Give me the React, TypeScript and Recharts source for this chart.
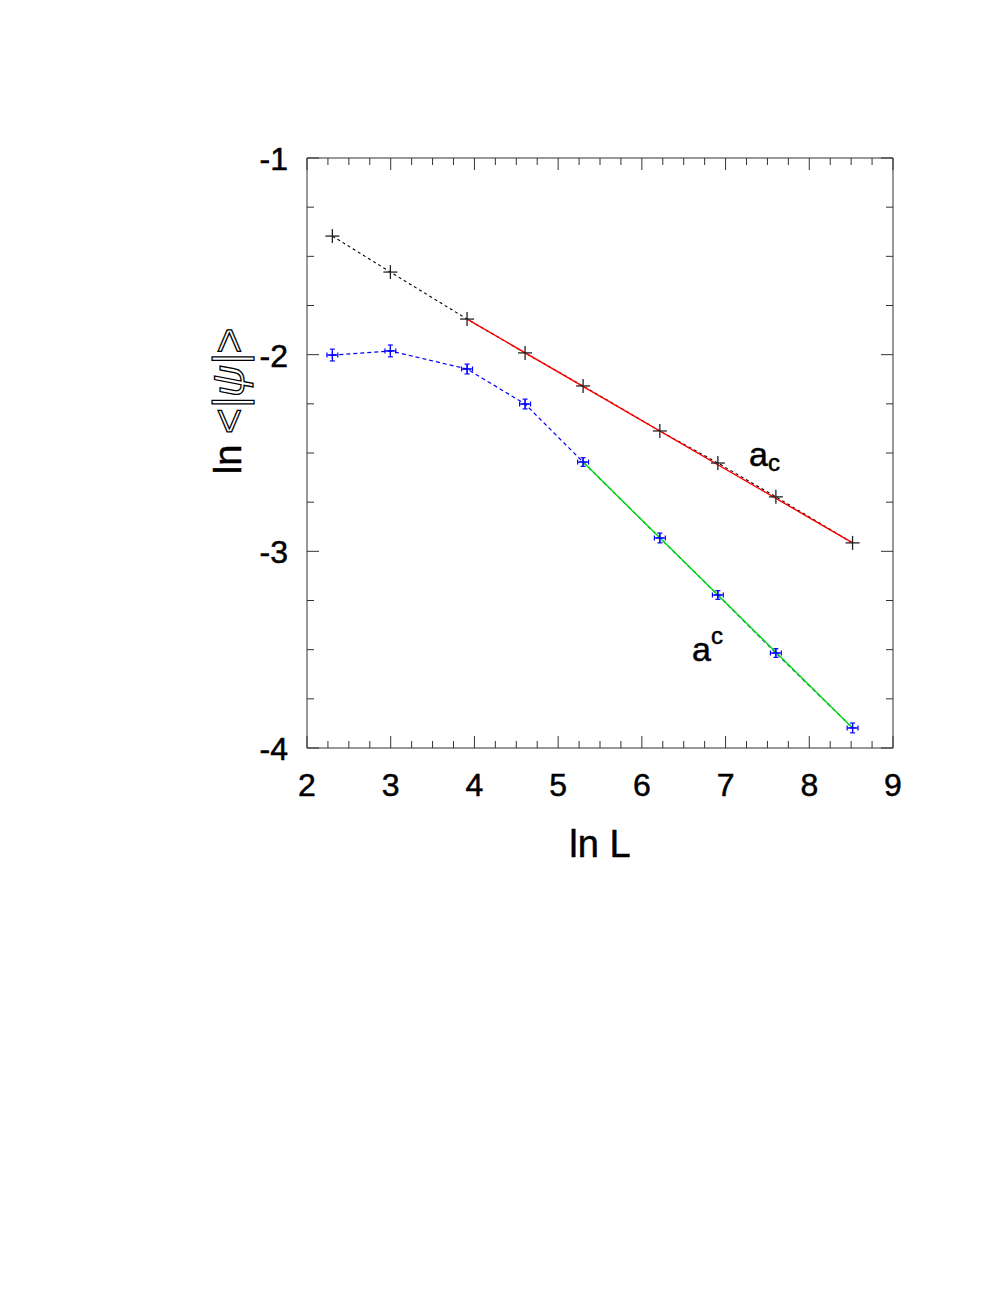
import React from 'react';
import { ComposedChart, Line, Scatter, XAxis, YAxis, ErrorBar } from 'recharts';

// ln L values (L = 10, 20, 50, 100, 200, 500, 1000, 2000, 5000)
const lnL = [2.303, 2.996, 3.912, 4.605, 5.298, 6.215, 6.908, 7.601, 8.517];
// a_c series (black +)
const acValues = [-1.397, -1.58, -1.819, -1.991, -2.159, -2.388, -2.551, -2.723, -2.957];
// a^c series (blue, with error bars)
const aSupValues = [-2.002, -1.981, -2.073, -2.251, -2.546, -2.932, -3.222, -3.517, -3.898];
const aSupYErr = [0.03, 0.03, 0.025, 0.025, 0.022, 0.025, 0.022, 0.022, 0.025];
const aSupXErr = [0.065, 0.065, 0.065, 0.065, 0.065, 0.065, 0.065, 0.065, 0.065];
// fitted lines
const redFitX = [3.912, 8.517];
const redFitY = [-1.819, -2.957];
const greenFitX = [5.298, 8.517];
const greenFitY = [-2.546, -3.898];
// axis ticks (major every 1, minor every 0.25)
const xTicks: number[] = [];
for (let i = 0; i <= 28; i++) xTicks.push(2 + i * 0.25);
const yTicks: number[] = [];
for (let i = 0; i <= 12; i++) yTicks.push(-4 + i * 0.25);
// annotations
const annotations = [
  { x: 7.28, y: -2.566, base: 'a', script: 'c', kind: 'sub' },
  { x: 6.6, y: -3.56, base: 'a', script: 'c', kind: 'sup' },
];

const acData = lnL.map((x, i) => ({ x, y: acValues[i] }));
const aSupData = lnL.map((x, i) => ({ x, y: aSupValues[i], yErr: aSupYErr[i], xErr: aSupXErr[i] }));
const redData = redFitX.map((x, i) => ({ x, y: redFitY[i] }));
const greenData = greenFitX.map((x, i) => ({ x, y: greenFitY[i] }));

const FONT = '"Liberation Sans", Arial, Helvetica, sans-serif';
const AXIS = '#333';

const isMajor = (v: number) => Math.abs(v - Math.round(v)) < 1e-6;

const BottomTick = (props: any) => {
  const { x, y, payload } = props;
  const v = payload.value;
  const m = isMajor(v);
  return (
    <g>
      <line x1={x} x2={x} y1={y} y2={y - (m ? 12 : 7)} stroke={AXIS} strokeWidth={1} />
      {m && (
        <text x={x} y={y + 48} textAnchor="middle" fontSize={32} fontFamily={FONT} fill="#000" stroke="#000" strokeWidth={0.5}>
          {v}
        </text>
      )}
    </g>
  );
};
const TopTick = (props: any) => {
  const { x, y, payload } = props;
  const m = isMajor(payload.value);
  return <line x1={x} x2={x} y1={y} y2={y + (m ? 12 : 7)} stroke={AXIS} strokeWidth={1} />;
};
const LeftTick = (props: any) => {
  const { x, y, payload } = props;
  const v = payload.value;
  const m = isMajor(v);
  return (
    <g>
      <line x1={x} x2={x + (m ? 12 : 7)} y1={y} y2={y} stroke={AXIS} strokeWidth={1} />
      {m && (
        <text x={x - 19} y={y + 12} textAnchor="end" fontSize={32} fontFamily={FONT} fill="#000" stroke="#000" strokeWidth={0.5}>
          {v}
        </text>
      )}
    </g>
  );
};
const RightTick = (props: any) => {
  const { x, y, payload } = props;
  const m = isMajor(payload.value);
  return <line x1={x} x2={x - (m ? 12 : 7)} y1={y} y2={y} stroke={AXIS} strokeWidth={1} />;
};

const PlusShape = (props: any) => {
  const { cx, cy } = props;
  return (
    <g>
      <line x1={cx - 7} x2={cx + 7} y1={cy} y2={cy} stroke="#222" strokeWidth={1.3} />
      <line x1={cx} x2={cx} y1={cy - 7} y2={cy + 7} stroke="#222" strokeWidth={1.3} />
    </g>
  );
};
const BluePlus = (props: any) => {
  const { cx, cy } = props;
  return (
    <g>
      <line x1={cx - 4} x2={cx + 4} y1={cy} y2={cy} stroke="#0000ff" strokeWidth={1.2} />
      <line x1={cx} x2={cx} y1={cy - 4} y2={cy + 4} stroke="#0000ff" strokeWidth={1.2} />
    </g>
  );
};
const EmptyShape = () => <g />;
const AnnotationShape = (props: any) => {
  const { cx, cy, payload } = props;
  return (
    <text x={cx} y={cy} fontSize={34} fontFamily={FONT} fill="#000" stroke="#000" strokeWidth={0.5}>
      {payload.base}
      <tspan fontSize={24} dy={payload.kind === 'sub' ? 5 : -17}>
        {payload.script}
      </tspan>
    </text>
  );
};

const YLabel = (props: any) => {
  const vb = props.viewBox || { x: 0, y: 150, width: 299, height: 590 };
  const cx = vb.x + vb.width - 79;
  const cy = vb.y + vb.height / 2 - 52;
  return (
    <text
      x={cx}
      y={cy}
      transform={`rotate(-90, ${cx}, ${cy})`}
      textAnchor="middle"
      dominantBaseline="central"
      fontSize={38}
      fontFamily={FONT}
    >
      <tspan fill="#000" stroke="#000" strokeWidth={0.5}>ln </tspan>
      <tspan fill="#fff" stroke="#000" strokeWidth={1.3} fontSize={44}>
        {'<'}
      </tspan>
      <tspan fill="#fff" stroke="#000" strokeWidth={1.3} fontSize={44} fontStyle="italic">
        {'|ψ|'}
      </tspan>
      <tspan fill="#fff" stroke="#000" strokeWidth={1.3} fontSize={44}>
        {'>'}
      </tspan>
    </text>
  );
};
const XLabel = (props: any) => {
  const vb = props.viewBox || { x: 299, y: 740, width: 586, height: 100 };
  return (
    <text x={vb.x + vb.width / 2} y={vb.y + 109} textAnchor="middle" fontSize={38} fontFamily={FONT} fill="#000" stroke="#000" strokeWidth={0.5}>
      ln L
    </text>
  );
};

export default function App() {
  return (
    <div style={{ width: 981, height: 1000, background: '#fff' }}>
      <ComposedChart width={981} height={1000} margin={{ top: 149, right: 95, bottom: 160, left: 0 }}>
        <XAxis
          xAxisId="b"
          dataKey="x"
          type="number"
          domain={[2, 9]}
          allowDataOverflow
          ticks={xTicks}
          interval={0}
          tickSize={0}
          tickMargin={0}
          height={100}
          tick={<BottomTick />}
          tickLine={false}
          axisLine={{ stroke: AXIS, strokeWidth: 1 }}
          label={<XLabel />}
        />
        <XAxis
          xAxisId="t"
          orientation="top"
          dataKey="x"
          type="number"
          domain={[2, 9]}
          allowDataOverflow
          ticks={xTicks}
          interval={0}
          tickSize={0}
          tickMargin={0}
          height={1}
          tick={<TopTick />}
          tickLine={false}
          axisLine={{ stroke: AXIS, strokeWidth: 1 }}
        />
        <YAxis
          yAxisId="l"
          type="number"
          domain={[-4, -1]}
          allowDataOverflow
          ticks={yTicks}
          interval={0}
          tickSize={0}
          tickMargin={0}
          width={299}
          tick={<LeftTick />}
          tickLine={false}
          axisLine={{ stroke: AXIS, strokeWidth: 1 }}
          label={<YLabel />}
        />
        <YAxis
          yAxisId="r"
          orientation="right"
          type="number"
          domain={[-4, -1]}
          allowDataOverflow
          ticks={yTicks}
          interval={0}
          tickSize={0}
          tickMargin={0}
          width={1}
          tick={<RightTick />}
          tickLine={false}
          axisLine={{ stroke: AXIS, strokeWidth: 1 }}
        />
        {/* invisible series binding the mirrored top/right axes */}
        <Scatter
          xAxisId="t"
          yAxisId="r"
          data={acData}
          dataKey="y"
          shape={<EmptyShape />}
          isAnimationActive={false}
        />
        <Line
          xAxisId="b"
          yAxisId="l"
          data={acData}
          dataKey="y"
          type="linear"
          stroke="#000"
          strokeWidth={1.1}
          strokeDasharray="3 3"
          dot={false}
          isAnimationActive={false}
        />
        <Line
          xAxisId="b"
          yAxisId="l"
          data={aSupData}
          dataKey="y"
          type="linear"
          stroke="#0000ff"
          strokeWidth={1.2}
          strokeDasharray="4 3"
          dot={false}
          isAnimationActive={false}
        />
        <Line
          xAxisId="b"
          yAxisId="l"
          data={redData}
          dataKey="y"
          type="linear"
          stroke="#ff0000"
          strokeWidth={1.4}
          dot={false}
          isAnimationActive={false}
        />
        <Line
          xAxisId="b"
          yAxisId="l"
          data={greenData}
          dataKey="y"
          type="linear"
          stroke="#00e000"
          strokeWidth={1.4}
          dot={false}
          isAnimationActive={false}
        />
        <Scatter
          xAxisId="b"
          yAxisId="l"
          data={acData}
          dataKey="y"
          shape={<PlusShape />}
          isAnimationActive={false}
        />
        <Scatter
          xAxisId="b"
          yAxisId="l"
          data={aSupData}
          dataKey="y"
          shape={<BluePlus />}
          isAnimationActive={false}
        >
          <ErrorBar dataKey="yErr" direction="y" width={2.5} stroke="#0000ff" strokeWidth={1.2} isAnimationActive={false} />
          <ErrorBar dataKey="xErr" direction="x" width={2.5} stroke="#0000ff" strokeWidth={1.2} isAnimationActive={false} />
        </Scatter>
        <Scatter
          xAxisId="b"
          yAxisId="l"
          data={annotations}
          dataKey="y"
          shape={<AnnotationShape />}
          isAnimationActive={false}
        />
      </ComposedChart>
    </div>
  );
}
